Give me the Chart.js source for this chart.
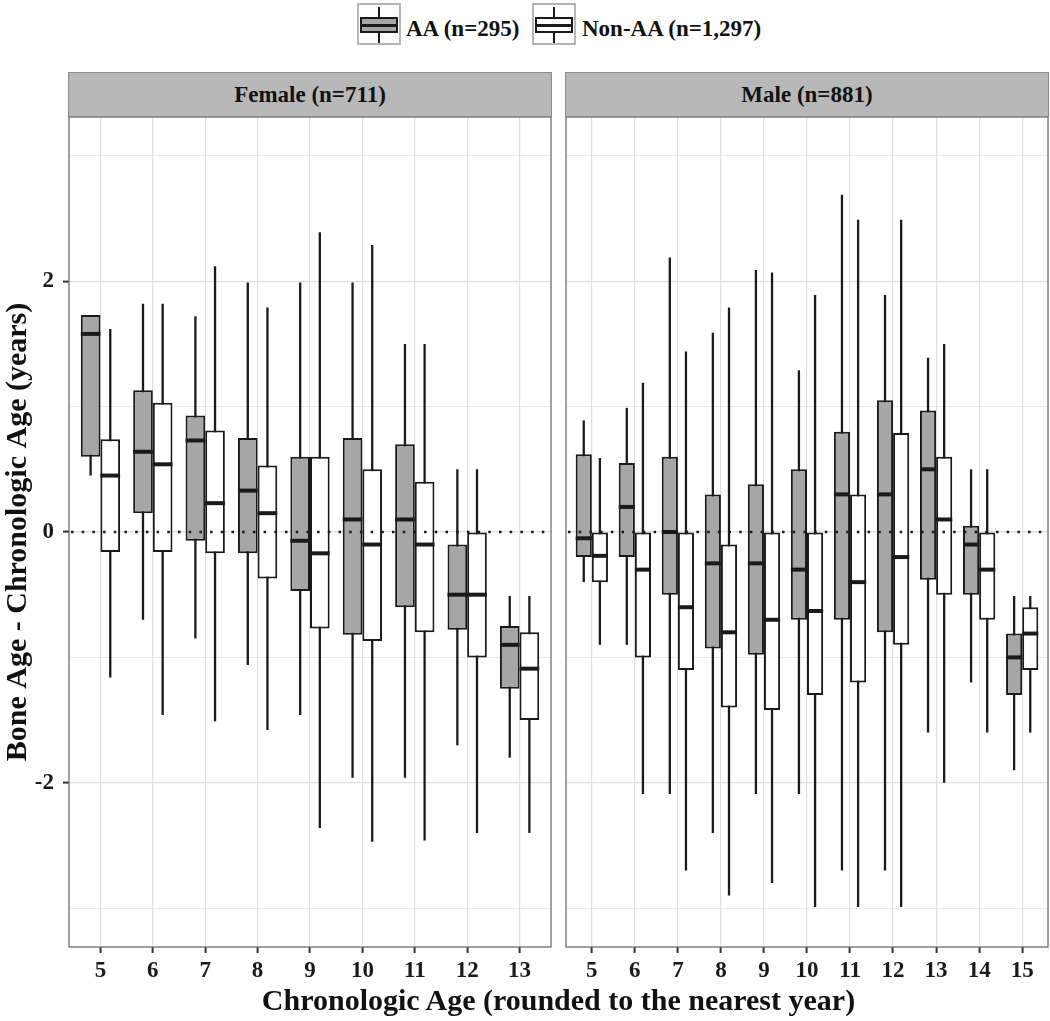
<!DOCTYPE html>
<html>
<head>
<meta charset="utf-8">
<script src="https://cdn.jsdelivr.net/npm/chart.js@4"></script>
<style>
  html, body { margin: 0; padding: 0; background: #ffffff; }
  #fig { position: relative; width: 1050px; height: 1021px; overflow: hidden; background: #fff;
         font-family: "Liberation Serif", "Times New Roman", serif; font-weight: bold; color: #111; }
  canvas { position: absolute; }
  .strip { position: absolute; top: 72px; height: 44px; background: #b8b8b8; border: 1px solid #8c8c8c;
           border-bottom: none; display: flex; align-items: center; justify-content: center; font-size: 23px; }
  .key { position: absolute; top: 3px; width: 40px; height: 38px; border: 2px solid #b5b5b5; background: #fff; }
  .key .wh { position: absolute; left: 19px; top: 2px; width: 2px; height: 36px; background: #1a1a1a; }
  .key .bx { position: absolute; left: 1px; top: 12px; width: 34px; height: 12px; border: 2px solid #1a1a1a; }
  .key .md { position: absolute; left: 0; top: 5px; width: 34px; height: 3px; background: #1a1a1a; }
  .ltxt { position: absolute; top: 16px; font-size: 23px; line-height: 26px; white-space: nowrap; }
  #xtitle { position: absolute; top: 982px; left: 69px; width: 979px; text-align: center; font-size: 30px; line-height: 36px; white-space: nowrap; }
</style>
</head>
<body>
<div id="fig">
  <div class="key" style="left:357px"><div class="wh"></div><div class="bx" style="background:#a6a6a6"><div class="md"></div></div></div>
  <div class="ltxt" style="left:406px">AA (n=295)</div>
  <div class="key" style="left:532px"><div class="wh"></div><div class="bx" style="background:#ffffff"><div class="md"></div></div></div>
  <div class="ltxt" style="left:582px">Non-AA (n=1,297)</div>

  <div class="strip" style="left:68px; width:482px">Female (n=711)</div>
  <div class="strip" style="left:565px; width:482px">Male (n=881)</div>

  <canvas id="female" width="556" height="911" style="left:0px; top:110px"></canvas>
  <canvas id="male" width="490" height="911" style="left:560px; top:110px"></canvas>

  <div id="xtitle">Chronologic Age (rounded to the nearest year)</div>
</div>

<script>
// ---------- DATA ----------
const femaleAges = [5, 6, 7, 8, 9, 10, 11, 12, 13];
const maleAges   = [5, 6, 7, 8, 9, 10, 11, 12, 13, 14, 15];

// Female, AA
const femaleAAMin    = [0.45, -0.70, -0.85, -1.06, -1.46, -1.96, -1.96, -1.70, -1.80];
const femaleAAQ1     = [0.60,  0.15, -0.07, -0.17, -0.47, -0.82, -0.60, -0.78, -1.25];
const femaleAAMedian = [1.58,  0.64,  0.73,  0.33, -0.07,  0.10,  0.10, -0.50, -0.90];
const femaleAAQ3     = [1.73,  1.13,  0.93,  0.75,  0.60,  0.75,  0.70, -0.10, -0.75];
const femaleAAMax    = [1.73,  1.82,  1.72,  1.99,  1.99,  1.99,  1.50,  0.50, -0.51];

// Female, Non-AA
const femaleNonAAMin    = [-1.16, -1.46, -1.51, -1.58, -2.36, -2.47, -2.46, -2.40, -2.40];
const femaleNonAAQ1     = [-0.16, -0.16, -0.17, -0.37, -0.77, -0.87, -0.80, -1.00, -1.50];
const femaleNonAAMedian = [ 0.45,  0.54,  0.23,  0.15, -0.17, -0.10, -0.10, -0.50, -1.09];
const femaleNonAAQ3     = [ 0.74,  1.03,  0.81,  0.53,  0.60,  0.50,  0.40,  0.00, -0.80];
const femaleNonAAMax    = [ 1.62,  1.82,  2.12,  1.79,  2.39,  2.29,  1.50,  0.50, -0.51];

// Male, AA
const maleAAMin    = [-0.40, -0.90, -2.09, -2.40, -2.09, -2.09, -2.70, -2.70, -1.60, -1.20, -1.90];
const maleAAQ1     = [-0.20, -0.20, -0.50, -0.93, -0.98, -0.70, -0.70, -0.80, -0.38, -0.50, -1.30];
const maleAAMedian = [-0.05,  0.20,  0.00, -0.25, -0.25, -0.30,  0.30,  0.30,  0.50, -0.10, -1.00];
const maleAAQ3     = [ 0.62,  0.55,  0.60,  0.30,  0.38,  0.50,  0.80,  1.05,  0.97,  0.05, -0.81];
const maleAAMax    = [ 0.89,  0.99,  2.19,  1.59,  2.09,  1.29,  2.69,  1.89,  1.39,  0.50, -0.51];

// Male, Non-AA
const maleNonAAMin    = [-0.90, -2.09, -2.70, -2.90, -2.80, -2.99, -2.99, -2.99, -2.00, -1.60, -1.60];
const maleNonAAQ1     = [-0.40, -1.00, -1.10, -1.40, -1.42, -1.30, -1.20, -0.90, -0.50, -0.70, -1.10];
const maleNonAAMedian = [-0.19, -0.30, -0.60, -0.80, -0.70, -0.63, -0.40, -0.20,  0.10, -0.30, -0.81];
const maleNonAAQ3     = [ 0.00,  0.00,  0.00, -0.10,  0.00,  0.00,  0.30,  0.79,  0.60,  0.00, -0.60];
const maleNonAAMax    = [ 0.59,  1.19,  1.44,  1.79,  2.07,  1.89,  2.49,  2.49,  1.50,  0.50, -0.51];

const yGridValues  = [-3, -2, -1, 0, 1, 2, 3];
const yLabelValues = [-2, 0, 2];
const referenceLine = 0;
const groupLabels = ['AA (n=295)', 'Non-AA (n=1,297)'];

// ---------- STYLE ----------
const INK = '#1a1a1a';
const AA_FILL = '#a6a6a6';
const NONAA_FILL = '#ffffff';
const GRID = '#e0e0e0';
const FONT = 'Liberation Serif';

function boxDataset(label, ages, lo, q1, med, q3, hi, fill) {
  return {
    label,
    data: ages.map((a, i) => ({ x: a, y: [q1[i], q3[i]] })),
    whiskerLo: lo, whiskerHi: hi, median: med,
    backgroundColor: fill, borderColor: INK, borderWidth: 2, borderSkipped: false,
    categoryPercentage: 0.75, barPercentage: 1.0
  };
}

const boxplotParts = {
  id: 'boxplotParts',
  beforeDatasetsDraw(chart) {
    const ctx = chart.ctx, ys = chart.scales.y;
    ctx.save();
    ctx.strokeStyle = INK; ctx.lineWidth = 2.3; ctx.lineCap = 'butt';
    chart.data.datasets.forEach((ds, i) => {
      chart.getDatasetMeta(i).data.forEach((bar, j) => {
        const x = bar.x;
        ctx.beginPath();
        ctx.moveTo(x, ys.getPixelForValue(ds.whiskerHi[j]));
        ctx.lineTo(x, ys.getPixelForValue(ds.whiskerLo[j]));
        ctx.stroke();
      });
    });
    ctx.restore();
  },
  afterDatasetsDraw(chart) {
    const ctx = chart.ctx, ys = chart.scales.y, area = chart.chartArea;
    ctx.save();
    ctx.strokeStyle = INK; ctx.lineWidth = 4; ctx.lineCap = 'butt';
    chart.data.datasets.forEach((ds, i) => {
      chart.getDatasetMeta(i).data.forEach((bar, j) => {
        const y = ys.getPixelForValue(ds.median[j]);
        ctx.beginPath();
        ctx.moveTo(bar.x - bar.width / 2, y);
        ctx.lineTo(bar.x + bar.width / 2, y);
        ctx.stroke();
      });
    });
    // dotted reference line
    const y0 = ys.getPixelForValue(referenceLine);
    ctx.setLineDash([2.5, 8.2]);
    ctx.lineWidth = 2.5;
    ctx.beginPath(); ctx.moveTo(area.left + 2, y0); ctx.lineTo(area.right, y0); ctx.stroke();
    ctx.setLineDash([]);
    // panel border
    ctx.strokeStyle = '#6e6e6e'; ctx.lineWidth = 1.3;
    ctx.strokeRect(area.left, area.top, area.right - area.left, area.bottom - area.top);
    ctx.restore();
  }
};

function makeChart(id, ages, sets, showY, padding) {
  const xTicks = ages.slice();
  return new Chart(document.getElementById(id), {
    type: 'bar',
    data: { datasets: sets },
    plugins: [boxplotParts],
    options: {
      responsive: false, animation: false, devicePixelRatio: 1,
      layout: { padding },
      plugins: { legend: { display: false }, tooltip: { enabled: false }, title: { display: false } },
      scales: {
        x: {
          type: 'linear', min: ages[0] - 0.6, max: ages[ages.length - 1] + 0.6, offset: false,
          afterBuildTicks: s => { s.ticks = xTicks.map(v => ({ value: v })); },
          afterFit: s => { s.height = 74; s.paddingLeft = 0; s.paddingRight = 0; },
          border: { display: false },
          grid: { offset: false, color: GRID, lineWidth: 1.2, drawTicks: true, tickLength: 6, tickWidth: 2, tickColor: '#333' },
          ticks: { autoSkip: false, maxRotation: 0, padding: 4, color: INK,
                   font: { family: FONT, weight: 'bold', size: 23 }, callback: v => String(v) }
        },
        y: {
          type: 'linear', min: -3.31, max: 3.31,
          afterBuildTicks: s => { s.ticks = yGridValues.map(v => ({ value: v })); },
          afterFit: s => { s.width = showY ? 69 : 0; s.paddingTop = 0; s.paddingBottom = 0; },
          border: { display: false },
          grid: {
            offset: false,
            color: GRID,
            lineWidth: c => (yLabelValues.includes(c.tick.value) ? 1.2 : 0.7),
            drawTicks: showY, tickLength: 6, tickWidth: 2,
            tickColor: c => (yLabelValues.includes(c.tick.value) ? '#333' : 'rgba(0,0,0,0)')
          },
          ticks: {
            display: showY, padding: 9, color: INK,
            font: { family: FONT, weight: 'bold', size: 23 },
            callback: v => (yLabelValues.includes(v) ? String(v) : '')
          },
          title: {
            display: showY, text: 'Bone Age - Chronologic Age (years)', color: '#111',
            font: { family: FONT, weight: 'bold', size: 30 }, padding: { top: 0, bottom: 0 }
          }
        }
      }
    }
  });
}

makeChart('female', femaleAges, [
  boxDataset(groupLabels[0], femaleAges, femaleAAMin, femaleAAQ1, femaleAAMedian, femaleAAQ3, femaleAAMax, AA_FILL),
  boxDataset(groupLabels[1], femaleAges, femaleNonAAMin, femaleNonAAQ1, femaleNonAAMedian, femaleNonAAQ3, femaleNonAAMax, NONAA_FILL)
], true, { top: 7, right: 5, bottom: 0, left: 0 });

makeChart('male', maleAges, [
  boxDataset(groupLabels[0], maleAges, maleAAMin, maleAAQ1, maleAAMedian, maleAAQ3, maleAAMax, AA_FILL),
  boxDataset(groupLabels[1], maleAges, maleNonAAMin, maleNonAAQ1, maleNonAAMedian, maleNonAAQ3, maleNonAAMax, NONAA_FILL)
], false, { top: 7, right: 2, bottom: 0, left: 6 });
</script>
</body>
</html>
